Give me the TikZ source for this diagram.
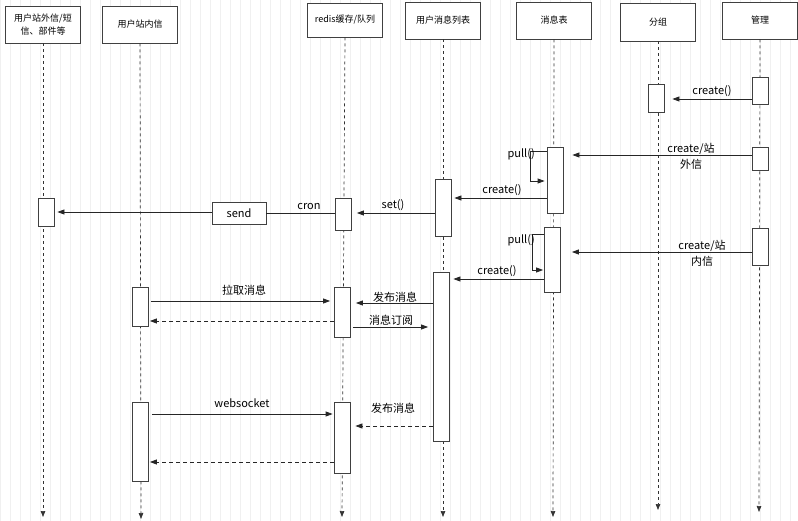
\documentclass[tikz,border=0pt]{standalone}
\usepackage{fontspec}
\setmainfont{Noto Sans CJK SC}
\usetikzlibrary{arrows.meta}
\begin{document}
\begin{tikzpicture}[x=1pt,y=-1pt,
  head/.style={draw=black!75, fill=white, line width=0.8pt, minimum width=75pt, minimum height=37pt, font=\fontsize{9}{13}\selectfont, align=center, inner sep=1pt},
  act/.style={draw=black!75, fill=white, line width=0.8pt, minimum width=16pt, inner sep=0pt},
  life/.style={draw=black!80, line width=0.7pt, dash pattern=on 3pt off 3pt, -{Triangle[length=6pt,width=4.5pt]}},
  msg/.style={draw=black!85, line width=0.8pt, -{Triangle[length=7pt,width=5pt]}},
  ret/.style={msg, dash pattern=on 4pt off 3pt},
  lbl/.style={font=\fontsize{11}{16}\selectfont, inner sep=0pt, align=center},
]
\useasboundingbox (0,0) rectangle (798,521);
\fill[white] (0,0) rectangle (798,521);
\draw[black!6, line width=0.3pt, step=10] (0,0) grid (798,521);

% heads
\node[head] (h1) at (43,24.5) {用户站外信/短\\信、部件等};
\node[head] (h2) at (140,24.5) {用户站内信};
\node[head, minimum height=34pt] (h3) at (345,20) {redis缓存/队列};
\node[head] (h4) at (443,20.5) {用户消息列表};
\node[head] (h5) at (554,20.5) {消息表};
\node[head, minimum height=38pt] (h6) at (658,22) {分组};
\node[head] (h7) at (760,20.5) {管理};

% lifeline ends
\coordinate (e1) at (43,517);
\coordinate (e2) at (141,519);
\coordinate (e3) at (342,517);
\coordinate (e4) at (443,517);
\coordinate (e5) at (553,517);
\coordinate (e6) at (658,510);
\coordinate (e7) at (759,512);
\draw[life] (h1.south) -- (e1);
\draw[life] (h2.south) -- (e2);
\draw[life] (h3.south) -- (e3);
\draw[life] (h4.south) -- (e4);
\draw[life] (h5.south) -- (e5);
\draw[life] (h6.south) -- (e6);
\draw[life] (h7.south) -- (e7);

% activation boxes
\node[act, minimum height=27pt] (a7a) at (760,90.5) {};
\node[act, minimum height=28pt] (a6) at (656,98) {};
\node[act, minimum height=23pt] (a7b) at (760,158.5) {};
\node[act, minimum height=66pt] (a5a) at (555,180) {};
\node[act, minimum height=57pt] (a4a) at (443,207.5) {};
\node[act, minimum height=32pt] (a3a) at (343.5,214) {};
\node[act, minimum height=28pt] (a1) at (46,212) {};
\node[act, minimum width=54pt, minimum height=22pt, font=\fontsize{11}{13}\selectfont] (send) at (239,213) {send};
\node[act, minimum height=65pt] (a5b) at (552.5,259.5) {};
\node[act, minimum height=37pt] (a7c) at (760,246.5) {};
\node[act, minimum height=169pt] (a4b) at (441.5,356.5) {};
\node[act, minimum height=39pt] (a2a) at (140.5,306.5) {};
\node[act, minimum height=50pt] (a3b) at (342.5,312) {};
\node[act, minimum height=79pt] (a2b) at (140.5,441.5) {};
\node[act, minimum height=71pt] (a3c) at (342,437.5) {};

% messages
\draw[msg, shorten >=8pt] (a7a.west |- 0,99) -- (a6.east |- 0,99);
\node[lbl] (l1) at (712,91) {create()};

\draw[msg, shorten >=9pt] (a7b.west |- 0,155) -- (a5a.east |- 0,155);
\node[lbl] (l2) at (691,156) {create/站\\外信};

\draw[msg, shorten >=2pt] (a5a.west |- 0,151) -- ++(-16,0) |- (a5a.west |- 0,181);
\node[lbl, anchor=east] (l3) at (535,154) {pull()};

\draw[msg, shorten >=3pt] (a5a.west |- 0,198) -- (a4a.east |- 0,198);
\node[lbl] (l4) at (502,190) {create()};

\draw[msg, shorten >=5pt] (a4a.west |- 0,213) -- (a3a.east |- 0,213);
\node[lbl] (l5) at (393,205) {set()};

\draw[draw=black!85, line width=0.8pt] (a3a.west |- 0,213) -- (send.east |- 0,213);
\node[lbl] (l6) at (309,207) {cron};

\draw[msg, shorten >=3pt] (send.west |- 0,212) -- (a1.east |- 0,212);

\draw[msg, shorten >=11pt] (a7c.west |- 0,252) -- (a5b.east |- 0,252);
\node[lbl] (l7) at (702,253) {create/站\\内信};

\draw[msg, shorten >=1pt] (a5b.west |- 0,234) -- ++(-12,0) |- (a5b.west |- 0,270);
\node[lbl, anchor=east] (l8) at (535,240) {pull()};

\draw[msg, shorten >=3.5pt] (a5b.west |- 0,279) -- (a4b.east |- 0,279);
\node[lbl] (l9) at (497,271) {create()};

\draw[msg, shorten <=2pt, shorten >=4pt] (a2a.east |- 0,301) -- (a3b.west |- 0,301);
\node[lbl] (l10) at (244,290) {拉取消息};

\draw[msg, shorten >=5pt] (a4b.west |- 0,303) -- (a3b.east |- 0,303);
\node[lbl] (l11) at (395,297) {发布消息};

\draw[ret, shorten >=1pt] (a3b.west |- 0,321) -- (a2a.east |- 0,321);

\draw[msg, shorten <=2pt, shorten >=5pt] (a3b.east |- 0,327) -- (a4b.west |- 0,327);
\node[lbl] (l12) at (391,320) {消息订阅};

\draw[msg, shorten <=3pt, shorten >=1pt] (a2b.east |- 0,414) -- (a3c.west |- 0,414);
\node[lbl] (l13) at (242,403) {websocket};

\draw[ret, shorten >=5pt] (a4b.west |- 0,426) -- (a3c.east |- 0,426);
\node[lbl] (l14) at (393,408) {发布消息};

\draw[ret, shorten >=1pt] (a3c.west |- 0,462) -- (a2b.east |- 0,462);
\end{tikzpicture}
\end{document}
